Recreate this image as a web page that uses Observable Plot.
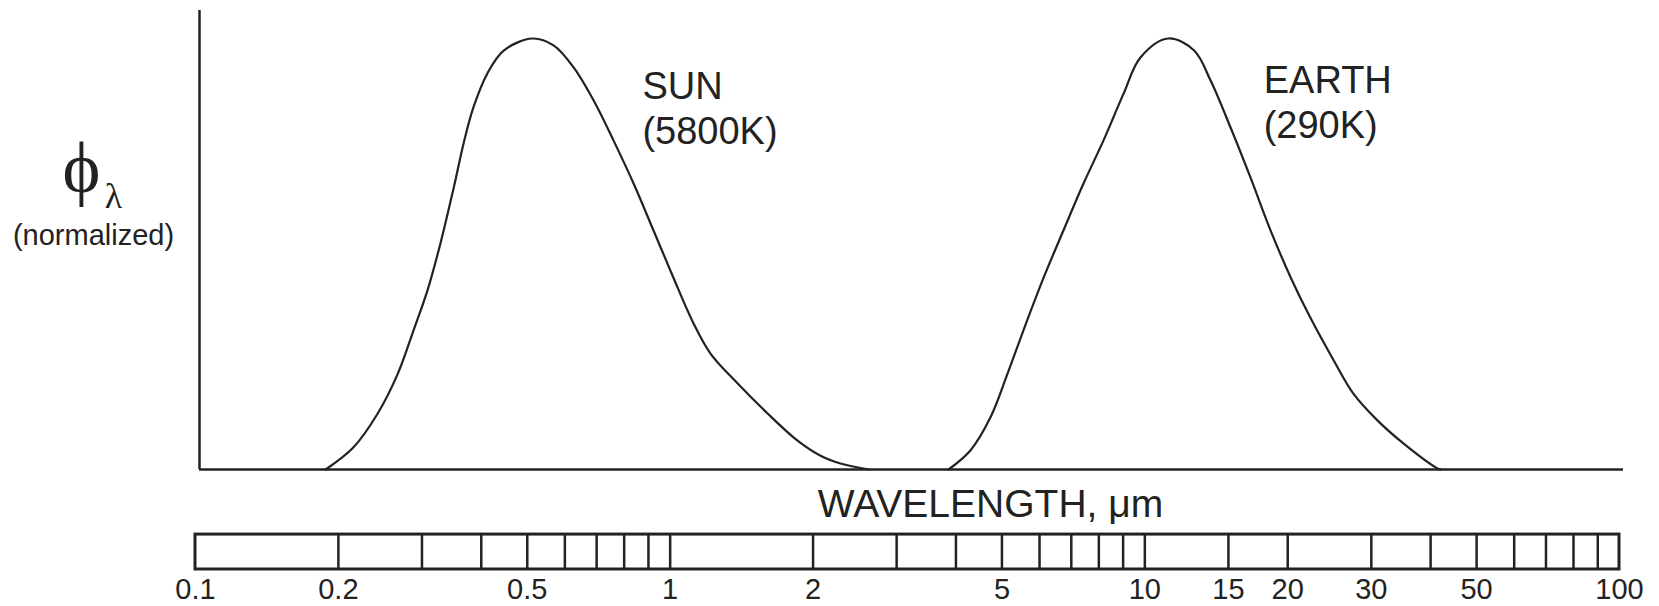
<!DOCTYPE html>
<html>
<head>
<meta charset="utf-8">
<script src="https://cdn.jsdelivr.net/npm/d3@7"></script>
<script src="https://cdn.jsdelivr.net/npm/@observablehq/plot@0.6"></script>
<style>
  html, body { margin: 0; padding: 0; background: #ffffff; }
  #chart { width: 1659px; height: 606px; }
  svg { display: block; }
</style>
</head>
<body>
<div id="chart"></div>
<script>
// ---- Data ----
// Wavelength in micrometres, normalized spectral intensity (peak = 1)
const sunWavelength = [0.188, 0.215, 0.242, 0.267, 0.288, 0.308, 0.328, 0.350, 0.367, 0.385, 0.412, 0.446, 0.513, 0.568, 0.626, 0.690, 0.760, 0.837, 0.922, 1.016, 1.120, 1.216, 1.386, 1.604, 1.855, 2.074, 2.285, 2.617];
const sunIntensity  = [0, 0.051, 0.130, 0.223, 0.323, 0.415, 0.524, 0.654, 0.756, 0.840, 0.919, 0.972, 1.0, 0.984, 0.933, 0.856, 0.763, 0.664, 0.555, 0.445, 0.339, 0.269, 0.200, 0.130, 0.067, 0.032, 0.014, 0];

const earthWavelength = [3.86, 4.29, 4.73, 5.14, 5.55, 6.12, 6.74, 7.43, 8.18, 9.02, 9.79, 11.2, 12.7, 13.75, 15.15, 16.7, 18.4, 20.3, 22.3, 25.0, 27.5, 30.9, 35.1, 41.0, 42.0];
const earthIntensity  = [0, 0.044, 0.121, 0.223, 0.323, 0.445, 0.555, 0.664, 0.763, 0.872, 0.956, 1.0, 0.972, 0.903, 0.794, 0.677, 0.555, 0.445, 0.353, 0.253, 0.176, 0.114, 0.060, 0.005, 0];

const rulerTicks  = [0.2, 0.3, 0.4, 0.5, 0.6, 0.7, 0.8, 0.9, 1, 2, 3, 4, 5, 6, 7, 8, 9, 10, 15, 20, 30, 40, 50, 60, 70, 80, 90];
const rulerLabels = [0.1, 0.2, 0.5, 1, 2, 5, 10, 15, 20, 30, 50, 100];

const curveLabels = [
  {text: "SUN\n(5800K)", wavelength: 0.874, level: 0.935},
  {text: "EARTH\n(290K)", wavelength: 17.8, level: 0.949}
];

// ---- Build tables ----
const sun = sunWavelength.map((w, i) => ({w, v: sunIntensity[i]}));
const earth = earthWavelength.map((w, i) => ({w, v: earthIntensity[i]}));

const ink = "#222";
const sans = "'Liberation Sans', Arial, Helvetica, sans-serif";
const serif = "'Liberation Serif', 'DejaVu Serif', 'Times New Roman', serif";

// layout levels (in normalized-y units below the baseline)
const axisTop = 1.065;
const rulerTop = -0.151;
const rulerBottom = -0.232;

const chart = Plot.plot({
  width: 1659,
  height: 606,
  marginLeft: 195,
  marginRight: 40,
  marginTop: 0,
  marginBottom: 0,
  style: {background: "#ffffff", color: ink, fontFamily: sans},
  x: {type: "log", domain: [0.1, 100], range: [195, 1619], axis: null},
  y: {domain: [0, 1], range: [469, 38], axis: null},
  marks: [
    // axes of the spectrum panel
    Plot.ruleX([0.1], {y1: 0, y2: axisTop, stroke: ink, strokeWidth: 2.5, dx: 4}),
    Plot.ruleY([0], {x1: 0.1, x2: 100, stroke: ink, strokeWidth: 2.5, dx: 4}),
    // curves
    Plot.line(sun, {x: "w", y: "v", stroke: ink, strokeWidth: 2.2, curve: "catmull-rom"}),
    Plot.line(earth, {x: "w", y: "v", stroke: ink, strokeWidth: 2.2, curve: "catmull-rom"}),
    // curve labels
    Plot.text(curveLabels, {x: "wavelength", y: "level", text: "text", textAnchor: "start", lineAnchor: "top", lineHeight: 1.2, fontSize: 38, fill: ink}),
    // y title
    Plot.text(["\u03D5"], {x: 0.1, y: 0.645, dx: -114, textAnchor: "middle", lineAnchor: "bottom", fontSize: 72, fontFamily: serif, fill: ink}),
    Plot.text(["\u03BB"], {x: 0.1, y: 0.606, dx: -82, textAnchor: "middle", lineAnchor: "bottom", fontSize: 36, fontFamily: serif, fill: ink}),
    Plot.text(["(normalized)"], {x: 0.1, y: 0.520, dx: -102, textAnchor: "middle", lineAnchor: "bottom", fontSize: 29, fill: ink}),
    // x title
    Plot.text(["WAVELENGTH, \u03BCm"], {x: 4.73, y: -0.111, textAnchor: "middle", lineAnchor: "bottom", fontSize: 39, fill: ink}),
    // wavelength ruler
    Plot.rect([{a: 0.1, b: 100}], {x1: "a", x2: "b", y1: rulerBottom, y2: rulerTop, fill: "none", stroke: ink, strokeWidth: 3}),
    Plot.ruleX(rulerTicks, {x: d => d, y1: rulerBottom, y2: rulerTop, stroke: ink, strokeWidth: 2.5}),
    Plot.text(rulerLabels, {x: d => d, y: rulerBottom, dy: 30, text: d => String(d), textAnchor: "middle", lineAnchor: "bottom", fontSize: 29, fill: ink})
  ]
});

document.getElementById("chart").appendChild(chart);
</script>
</body>
</html>
